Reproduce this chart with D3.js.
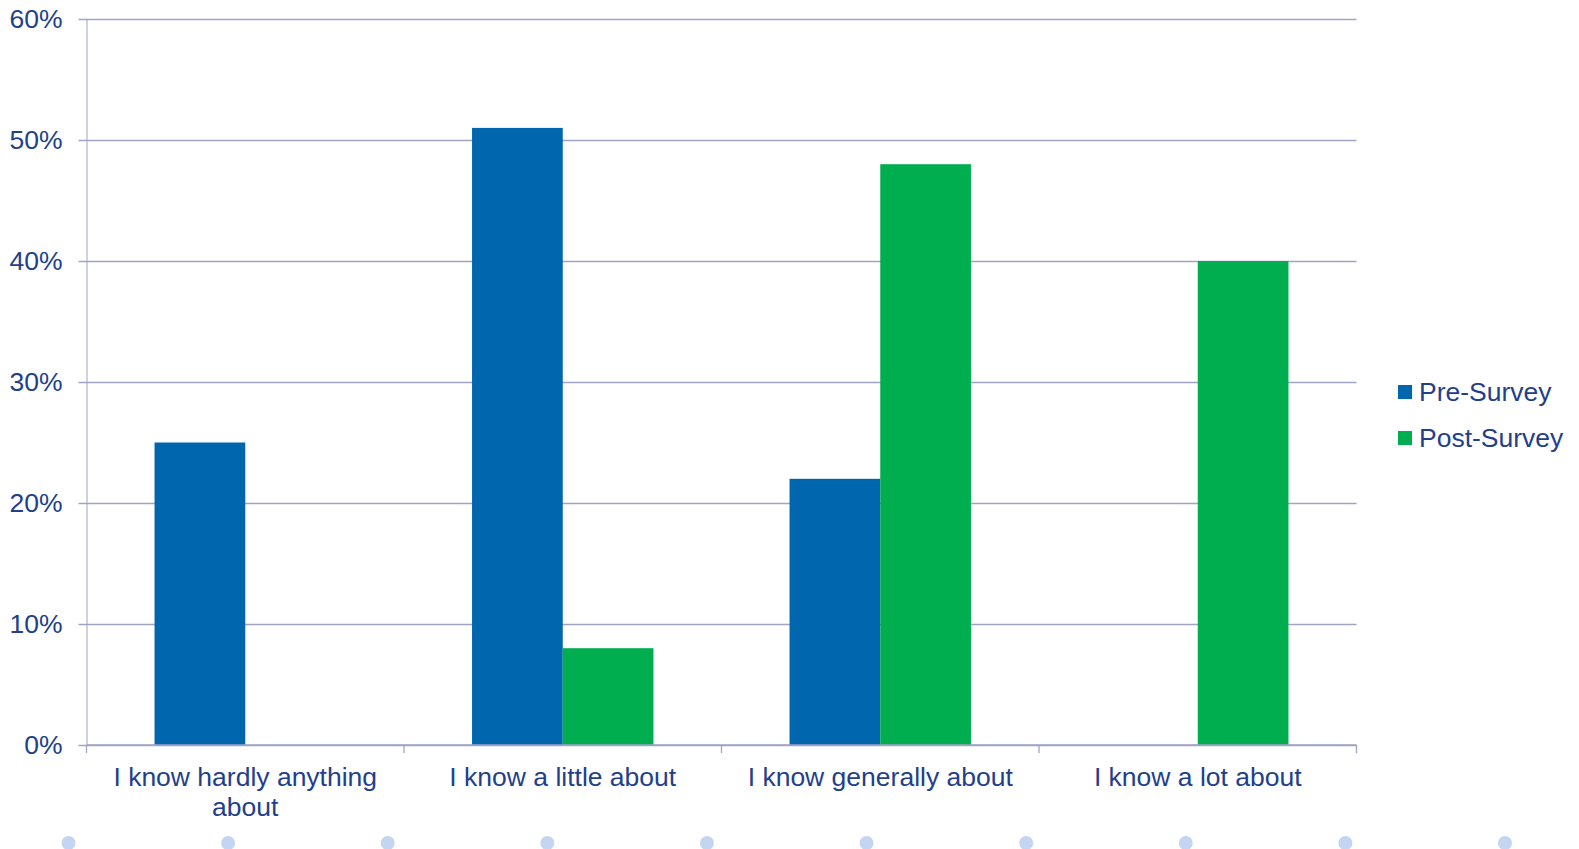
<!DOCTYPE html>
<html>
<head>
<meta charset="utf-8">
<script src="https://cdn.jsdelivr.net/npm/d3@7"></script>
<style>
  html, body { margin: 0; padding: 0; background: #fff; }
  svg { display: block; }
  text { font-family: "Liberation Sans", Arial, sans-serif; fill: #233f8c; }
</style>
</head>
<body>
<svg id="chart" width="1579" height="849"></svg>
<script>
// Share of respondents per knowledge level, before and after
const categories = [
  ["I know hardly anything", "about"],
  ["I know a little about"],
  ["I know generally about"],
  ["I know a lot about"]
];
const seriesNames = ["Pre-Survey", "Post-Survey"];
const preSurvey  = [25, 51, 22, 0];
const postSurvey = [0, 8, 48, 40];
const yTicks = [0, 10, 20, 30, 40, 50, 60];
const seriesColors = ["#0066ae", "#00ae50"];

const svg = d3.select("#chart");
const margin = { left: 86.5, right: 1356.5, top: 19, bottom: 745 };
const gridColor = "#a0a3c4";
const fontSize = 26.5;

const catKeys = categories.map((c, i) => i);
const x0 = d3.scaleBand().domain(catKeys).range([margin.left, margin.right]).padding(0);
const x1 = d3.scaleBand().domain(seriesNames).range([0, x0.bandwidth()])
  .paddingInner(0).paddingOuter(0.75);
const y = d3.scaleLinear().domain([0, 60]).range([margin.bottom, margin.top]);

// horizontal gridlines with left tick marks
const yAxis = d3.axisLeft(y).tickValues(yTicks).tickFormat(d => d + "%")
  .tickSize(-(margin.right - margin.left)).tickSizeOuter(0).tickPadding(24);
const gy = svg.append("g").attr("transform", `translate(${margin.left},0)`).call(yAxis);
gy.select(".domain").attr("stroke", gridColor);
gy.selectAll(".tick line").attr("stroke", gridColor).attr("x1", -8).attr("stroke-width", 1.3);
gy.selectAll(".tick text").attr("font-size", fontSize).attr("fill", "#233f8c")
  .attr("font-family", "Liberation Sans, Arial, sans-serif");

// bars
const data = catKeys.map(i => ({ i, values: [preSurvey[i], postSurvey[i]] }));
const groups = svg.append("g").selectAll("g").data(data).join("g")
  .attr("transform", d => `translate(${x0(d.i)},0)`);
groups.selectAll("rect")
  .data(d => d.values.map((v, k) => ({ k, v })).filter(e => e.v > 0))
  .join("rect")
  .attr("x", e => x1(seriesNames[e.k]))
  .attr("width", x1.bandwidth())
  .attr("y", e => y(e.v))
  .attr("height", e => y(0) - y(e.v))
  .attr("fill", e => seriesColors[e.k]);

// x axis with boundary ticks between categories
const xLine = svg.append("g");
xLine.append("line").attr("x1", margin.left).attr("x2", margin.right)
  .attr("y1", y(0)).attr("y2", y(0)).attr("stroke", gridColor).attr("stroke-width", 1.3);
const bounds = catKeys.map(i => x0(i)).concat([margin.right]);
xLine.selectAll("line.tk").data(bounds).join("line").attr("class", "tk")
  .attr("x1", d => d).attr("x2", d => d)
  .attr("y1", y(0)).attr("y2", y(0) + 8)
  .attr("stroke", gridColor).attr("stroke-width", 1.3);

// category labels
const labels = svg.append("g").selectAll("text").data(categories).join("text")
  .attr("text-anchor", "middle")
  .attr("font-size", fontSize)
  .attr("transform", (d, i) => `translate(${x0(i) + x0.bandwidth() / 2},786)`);
labels.selectAll("tspan").data(d => d).join("tspan")
  .attr("x", 0).attr("dy", (d, j) => j === 0 ? 0 : 30).text(d => d);

// legend
const legend = svg.append("g").attr("transform", "translate(1398,392)");
const li = legend.selectAll("g").data(seriesNames).join("g")
  .attr("transform", (d, i) => `translate(0,${i * 46})`);
li.append("rect").attr("x", 0).attr("y", -7).attr("width", 14).attr("height", 14)
  .attr("fill", (d, i) => seriesColors[i]);
li.append("text").attr("x", 21).attr("y", 0).attr("dy", "0.35em")
  .attr("font-size", fontSize).text(d => d);

// decorative dot row along the bottom edge
const dotCount = 10;
const dotX = d3.scaleLinear().domain([0, dotCount - 1]).range([68.5, 1505]);
svg.append("g").selectAll("circle").data(d3.range(dotCount)).join("circle")
  .attr("cx", d => dotX(d)).attr("cy", 843).attr("r", 7)
  .attr("fill", "#c3d5f1");
</script>
</body>
</html>
